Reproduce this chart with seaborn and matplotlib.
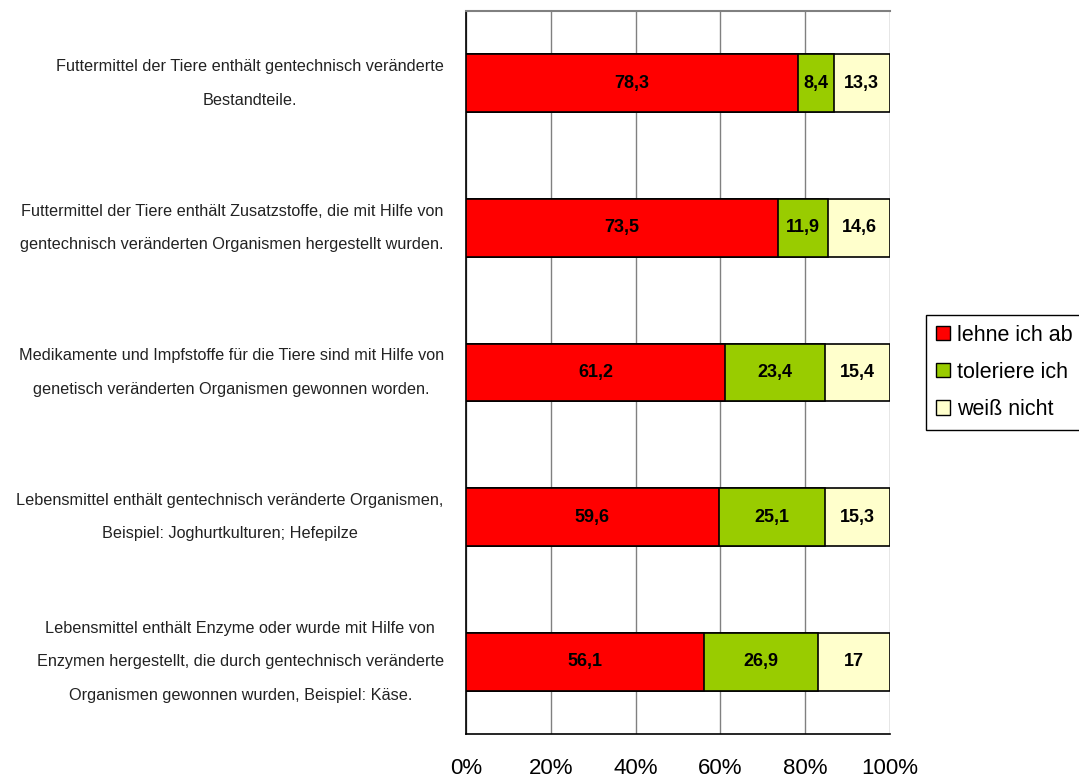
import matplotlib
matplotlib.use("Agg")
import matplotlib.pyplot as plt
from matplotlib.patches import Patch
from matplotlib.ticker import FixedLocator
import seaborn as sns
import pandas as pd
import numpy as np

categories = [
    "Futtermittel der Tiere enthält gentechnisch veränderte\nBestandteile.",
    "Futtermittel der Tiere enthält Zusatzstoffe, die mit Hilfe von\ngentechnisch veränderten Organismen hergestellt wurden.",
    "Medikamente und Impfstoffe für die Tiere sind mit Hilfe von\ngenetisch veränderten Organismen gewonnen worden.",
    "Lebensmittel enthält gentechnisch veränderte Organismen,\nBeispiel: Joghurtkulturen; Hefepilze",
    "Lebensmittel enthält Enzyme oder wurde mit Hilfe von\nEnzymen hergestellt, die durch gentechnisch veränderte\nOrganismen gewonnen wurden, Beispiel: Käse.",
]
lehne = [78.3, 73.5, 61.2, 59.6, 56.1]
toleriere = [8.4, 11.9, 23.4, 25.1, 26.9]
weiss = [13.3, 14.6, 15.4, 15.3, 17.0]
value_labels_lehne = ["78,3", "73,5", "61,2", "59,6", "56,1"]
value_labels_tol = ["8,4", "11,9", "23,4", "25,1", "26,9"]
value_labels_weiss = ["13,3", "14,6", "15,4", "15,3", "17"]
series_names = ["lehne ich ab", "toleriere ich", "weiß nicht"]
colors = ["#FF0000", "#99CC00", "#FFFFCC"]
xticklabels = ["0%", "20%", "40%", "60%", "80%", "100%"]

df = pd.DataFrame({"cat": categories, "lehne": lehne, "tol": toleriere, "weiss": weiss})
df["c1"] = df["lehne"]
df["c2"] = df["lehne"] + df["tol"]
df["c3"] = df["c2"] + df["weiss"]

sns.set_style("white")
plt.rcParams["font.family"] = ["Liberation Sans", "DejaVu Sans"]
plt.rcParams["text.color"] = "black"
plt.rcParams["xtick.color"] = "black"
plt.rcParams["ytick.color"] = "black"

fig = plt.figure(figsize=(10.79, 7.8), dpi=100)
ax = fig.add_axes([466/1079, 1-734/780, (890-466)/1079, (734-11)/780])

for col, c in zip(["c3", "c2", "c1"], [colors[2], colors[1], colors[0]]):
    sns.barplot(data=df, y="cat", x=col, orient="h", color=c, width=0.4,
                edgecolor="black", linewidth=1.2, saturation=1, ax=ax, zorder=3)

for i in range(len(categories)):
    starts = [0, df["c1"][i], df["c2"][i]]
    widths = [df["lehne"][i], df["tol"][i], df["weiss"][i]]
    labs = [value_labels_lehne[i], value_labels_tol[i], value_labels_weiss[i]]
    for s, w, l in zip(starts, widths, labs):
        ax.text(s + w/2, i, l, ha="center", va="center", fontsize=13,
                fontweight="bold", color="black", zorder=5)

ax.set_xlim(0, 100)
ax.set_ylim(len(categories) - 0.5, -0.5)
ax.set_xticks([0, 20, 40, 60, 80, 100])
ax.set_xticklabels(xticklabels, fontsize=16)
ax.set_xlabel("")
ax.set_ylabel("")
ax.grid(axis="x", color="#808080", linewidth=1, zorder=0)
ax.set_axisbelow(True)

ax.set_yticks(range(len(categories)))
ax.set_yticklabels(categories, fontsize=11.7, ha="right",
                   multialignment="center", linespacing=2.55, color="#222222")
for lab in ax.get_yticklabels():
    lab.set_va("center")
ax.yaxis.set_minor_locator(FixedLocator(np.arange(-0.5, len(categories), 1.0)))
ax.tick_params(axis="y", which="major", length=0, pad=16)
ax.tick_params(axis="y", which="minor", length=6, width=1, color="black", direction="out")
ax.tick_params(axis="x", which="major", length=6, width=1, color="black",
               direction="out", pad=11)

for side in ["left", "bottom"]:
    ax.spines[side].set_color("black")
    ax.spines[side].set_linewidth(1.2)
ax.spines["top"].set_color("#808080")
ax.spines["top"].set_linewidth(1.5)
ax.spines["right"].set_visible(False)

handles = [Patch(facecolor=c, edgecolor="black", linewidth=1, label=n)
           for c, n in zip(colors, series_names)]
leg = fig.legend(handles=handles, loc="upper left",
                 bbox_to_anchor=(926/1079, 1-315/780), fontsize=15.5,
                 frameon=True, fancybox=False, edgecolor="black", framealpha=1,
                 handlelength=0.65, handleheight=0.65, handletextpad=0.35,
                 labelspacing=0.75, borderpad=0.45, borderaxespad=0)
leg.get_frame().set_linewidth(1)

fig.savefig("out.png", dpi=100)
